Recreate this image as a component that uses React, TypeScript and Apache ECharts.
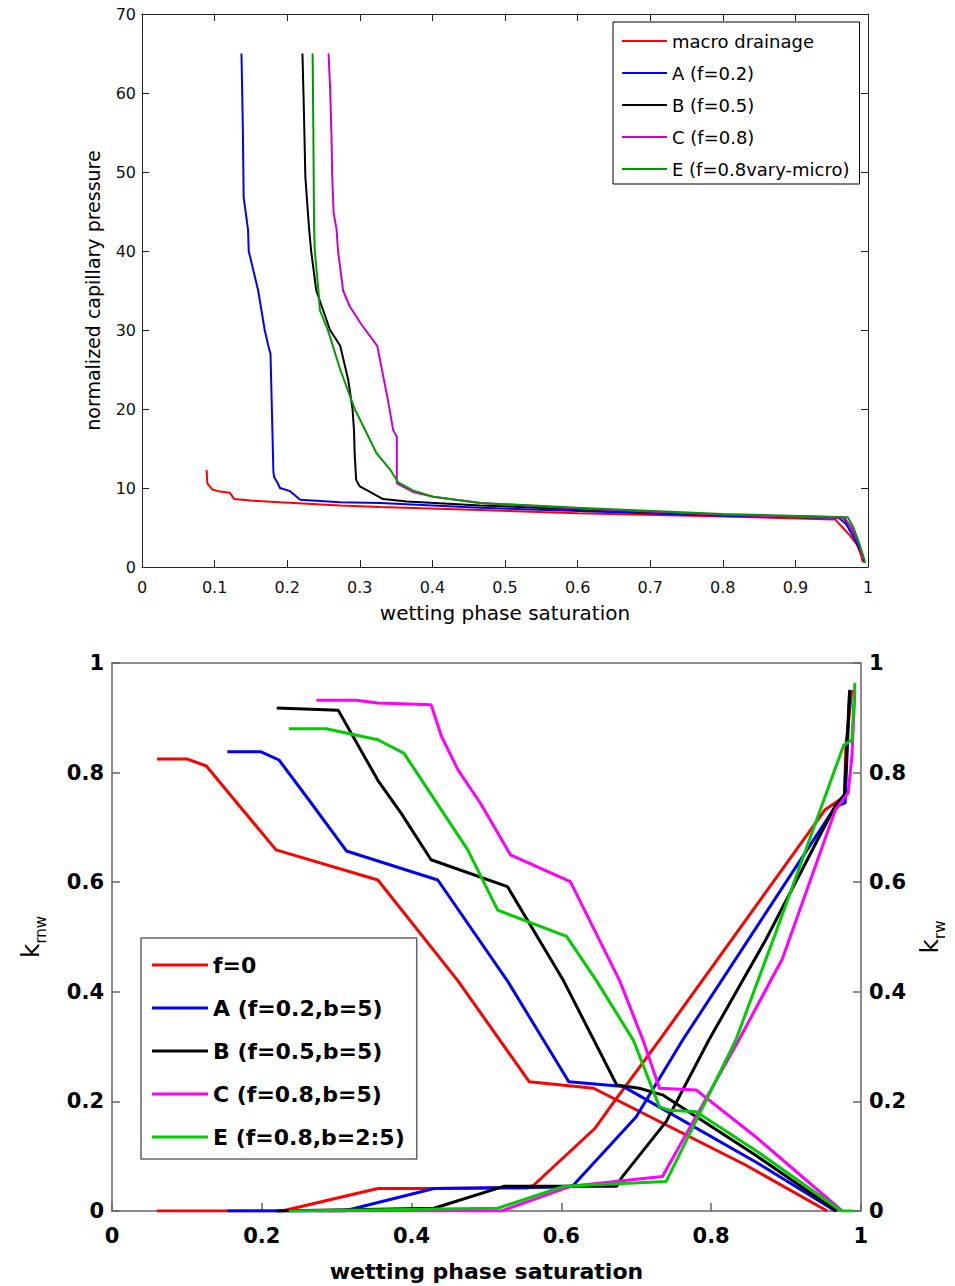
import React, { useEffect, useRef } from 'react';
import * as echarts from 'echarts';

type P = [number, number][];

// ---------- top chart: capillary pressure ----------
const topNames = ['macro drainage', 'A (f=0.2)', 'B (f=0.5)', 'C (f=0.8)', 'E (f=0.8vary-micro)'];
const topColors = ['#ff0000', '#0000ff', '#000000', '#cc00cc', '#009900'];

const pcMacro: P = [[0.089, 12.3], [0.09, 10.6], [0.097, 9.8], [0.105, 9.6], [0.121, 9.4], [0.127, 8.6], [0.153, 8.4], [0.19, 8.2], [0.273, 7.8], [0.328, 7.6], [0.466, 7.2], [0.6, 6.8], [0.8, 6.4], [0.955, 6.0], [0.965, 5.0], [0.975, 4.0], [0.985, 2.8], [0.99, 1.6], [0.993, 0.6]];
const pcA: P = [[0.137, 65], [0.139, 55], [0.14, 46.8], [0.143, 44.8], [0.146, 42.7], [0.147, 40], [0.16, 35], [0.169, 30], [0.174, 28], [0.177, 27], [0.181, 12], [0.182, 11.4], [0.187, 10.6], [0.19, 10], [0.204, 9.6], [0.213, 8.9], [0.218, 8.5], [0.273, 8.2], [0.328, 8.1], [0.466, 7.5], [0.6, 7.1], [0.8, 6.5], [0.96, 6.2], [0.97, 5.4], [0.98, 3.8], [0.99, 2.0], [0.995, 0.8]];
const pcB: P = [[0.221, 65], [0.223, 57.8], [0.225, 49.4], [0.228, 45.5], [0.23, 43], [0.233, 40], [0.24, 35], [0.259, 30], [0.273, 28], [0.284, 23.7], [0.29, 20], [0.292, 17.3], [0.293, 14.2], [0.295, 11], [0.3, 10.2], [0.314, 9.5], [0.332, 8.6], [0.365, 8.3], [0.466, 7.8], [0.6, 7.3], [0.8, 6.6], [0.965, 6.3], [0.975, 5.2], [0.985, 3.4], [0.992, 1.6], [0.995, 0.6]];
const pcC: P = [[0.257, 65], [0.259, 60.8], [0.26, 57.8], [0.261, 54.5], [0.262, 49.4], [0.264, 44.8], [0.268, 42.7], [0.27, 40], [0.277, 35], [0.286, 33], [0.303, 30.6], [0.324, 28], [0.339, 21], [0.346, 17.3], [0.351, 16.5], [0.351, 10.6], [0.373, 9.5], [0.401, 8.9], [0.466, 8.1], [0.6, 7.4], [0.8, 6.6], [0.968, 6.2], [0.978, 4.8], [0.988, 2.8], [0.993, 1.0]];
const pcE: P = [[0.235, 65], [0.236, 55.3], [0.237, 43], [0.238, 40], [0.243, 35], [0.245, 32.5], [0.256, 30], [0.273, 25], [0.293, 20], [0.314, 16.1], [0.323, 14.4], [0.342, 12.3], [0.353, 10.7], [0.373, 9.7], [0.401, 8.9], [0.466, 8.1], [0.6, 7.5], [0.8, 6.7], [0.972, 6.3], [0.98, 5.0], [0.988, 3.0], [0.994, 1.2], [0.996, 0.5]];
const topData: P[] = [pcMacro, pcA, pcB, pcC, pcE];

// ---------- bottom chart: relative permeability ----------
const botNames = ['f=0', 'A (f=0.2,b=5)', 'B (f=0.5,b=5)', 'C (f=0.8,b=5)', 'E (f=0.8,b=2:5)'];
const botColors = ['#ff0000', '#0000ff', '#000000', '#ff00ff', '#00cc00'];

const krnwF0: P = [[0.06, 0.825], [0.1, 0.825], [0.126, 0.812], [0.219, 0.659], [0.355, 0.604], [0.462, 0.42], [0.557, 0.236], [0.643, 0.224], [0.846, 0.084], [0.955, 0]];
const krwF0: P = [[0.06, 0], [0.227, 0], [0.355, 0.041], [0.43, 0.041], [0.555, 0.042], [0.563, 0.047], [0.645, 0.151], [0.669, 0.197], [0.731, 0.312], [0.859, 0.555], [0.952, 0.732], [0.978, 0.756], [0.98, 0.85], [0.988, 0.951]];
const krnwA: P = [[0.154, 0.838], [0.199, 0.838], [0.223, 0.823], [0.263, 0.75], [0.313, 0.657], [0.435, 0.604], [0.528, 0.42], [0.61, 0.236], [0.683, 0.227], [0.859, 0.09], [0.966, 0]];
const krwA: P = [[0.154, 0], [0.31, 0], [0.43, 0.041], [0.61, 0.044], [0.616, 0.047], [0.7, 0.172], [0.762, 0.312], [0.966, 0.738], [0.979, 0.745], [0.985, 0.951]];
const krnwB: P = [[0.22, 0.918], [0.302, 0.914], [0.355, 0.786], [0.386, 0.726], [0.426, 0.641], [0.528, 0.592], [0.603, 0.42], [0.674, 0.23], [0.704, 0.224], [0.735, 0.212], [0.859, 0.102], [0.968, 0]];
const krwB: P = [[0.22, 0], [0.43, 0.005], [0.523, 0.045], [0.674, 0.045], [0.68, 0.06], [0.74, 0.163], [0.797, 0.312], [0.873, 0.495], [0.966, 0.74], [0.978, 0.76], [0.985, 0.95]];
const krnwC: P = [[0.273, 0.932], [0.326, 0.932], [0.355, 0.927], [0.426, 0.924], [0.44, 0.866], [0.462, 0.805], [0.492, 0.744], [0.532, 0.65], [0.612, 0.601], [0.678, 0.42], [0.709, 0.312], [0.731, 0.224], [0.78, 0.221], [0.859, 0.136], [0.975, 0]];
const krwC: P = [[0.273, 0], [0.52, 0], [0.612, 0.045], [0.735, 0.063], [0.837, 0.312], [0.895, 0.46], [0.966, 0.732], [0.983, 0.763], [0.988, 0.83], [0.992, 0.95]];
const krnwE: P = [[0.236, 0.88], [0.286, 0.88], [0.355, 0.86], [0.39, 0.835], [0.475, 0.659], [0.515, 0.549], [0.607, 0.501], [0.647, 0.42], [0.696, 0.312], [0.731, 0.19], [0.744, 0.184], [0.78, 0.181], [0.859, 0.111], [0.974, 0], [0.99, 0]];
const krwE: P = [[0.236, 0], [0.515, 0.005], [0.603, 0.045], [0.74, 0.054], [0.833, 0.312], [0.886, 0.507], [0.977, 0.85], [0.988, 0.86], [0.992, 0.964]];
const krnwData: P[] = [krnwF0, krnwA, krnwB, krnwC, krnwE];
const krwData: P[] = [krwF0, krwA, krwB, krwC, krwE];

// axis ranges
const topX = { min: 0, max: 1, interval: 0.1 };
const topY = { min: 0, max: 70, interval: 10 };
const botX = { min: 0, max: 1, interval: 0.2 };
const botY = { min: 0, max: 1, interval: 0.2 };

const REG = 'DejaVu Sans';

function line(name: string, data: P, color: string, width: number, xi: number, yi: number) {
  return {
    type: 'line', name, data, xAxisIndex: xi, yAxisIndex: yi,
    showSymbol: false, symbol: 'none', silent: true,
    lineStyle: { color, width }, itemStyle: { color },
    emphasis: { disabled: true },
  };
}

export default function App() {
  const ref = useRef<HTMLDivElement>(null);
  useEffect(() => {
    if (!ref.current) return;
    const chart = echarts.init(ref.current, undefined, { renderer: 'svg' });
    const topAxisColor = '#222';
    const botAxisColor = '#666';
    const topLabel = { fontFamily: REG, fontSize: 16, color: '#111' };
    const botLabel = { fontFamily: REG, fontSize: 21, fontWeight: 'bold', color: '#000' };
    const topLine = { show: true, onZero: false, lineStyle: { color: topAxisColor, width: 1 } };
    const topTick = { show: true, inside: true, length: 7, lineStyle: { color: topAxisColor } };
    const botLine = { show: true, onZero: false, lineStyle: { color: botAxisColor, width: 1.5 } };
    const botTick = { show: true, inside: true, length: 8, lineStyle: { color: botAxisColor, width: 1.5 } };
    const subRich = {
      k: { fontFamily: REG, fontSize: 25, lineHeight: 30, verticalAlign: 'top', color: '#000' },
      s: { fontFamily: REG, fontSize: 15, lineHeight: 30, verticalAlign: 'bottom', color: '#000' },
    };

    const series: any[] = [];
    topNames.forEach((n, i) => series.push(line(n, topData[i], topColors[i], 2, 0, 0)));
    botNames.forEach((n, i) => {
      series.push(line(n, krnwData[i], botColors[i], 3, 2, 2));
      series.push(line(n, krwData[i], botColors[i], 3, 2, 3));
    });

    chart.setOption({
      animation: false,
      backgroundColor: '#fff',
      grid: [
        { left: 142, top: 14, width: 726, height: 553, show: false },
        { left: 112, top: 663, width: 754, height: 548, show: false },
      ],
      xAxis: [
        {
          gridIndex: 0, type: 'value', ...topX, position: 'bottom',
          axisLine: topLine, axisTick: topTick,
          axisLabel: { ...topLabel, margin: 12 },
          splitLine: { show: false },
          name: 'wetting phase saturation', nameLocation: 'middle', nameGap: 36,
          nameTextStyle: { fontFamily: REG, fontSize: 20, color: '#000' },
        },
        {
          gridIndex: 0, type: 'value', ...topX, position: 'top',
          axisLine: topLine, axisTick: topTick,
          axisLabel: { show: false }, splitLine: { show: false },
        },
        {
          gridIndex: 1, type: 'value', ...botX, position: 'bottom',
          axisLine: botLine, axisTick: botTick,
          axisLabel: { ...botLabel, margin: 14 },
          splitLine: { show: false },
          name: 'wetting phase saturation', nameLocation: 'middle', nameGap: 49,
          nameTextStyle: { fontFamily: REG, fontSize: 22, fontWeight: 'bold', color: '#000' },
        },
        {
          gridIndex: 1, type: 'value', ...botX, position: 'top',
          axisLine: botLine,
          axisTick: { show: false }, axisLabel: { show: false }, splitLine: { show: false },
        },
      ],
      yAxis: [
        {
          gridIndex: 0, type: 'value', ...topY, position: 'left',
          axisLine: topLine, axisTick: topTick,
          axisLabel: { ...topLabel, margin: 6 },
          splitLine: { show: false },
          name: 'normalized capillary pressure', nameLocation: 'middle', nameGap: 40,
          nameTextStyle: { fontFamily: REG, fontSize: 19, color: '#000' },
        },
        {
          gridIndex: 0, type: 'value', ...topY, position: 'right',
          axisLine: topLine, axisTick: topTick,
          axisLabel: { show: false }, splitLine: { show: false },
        },
        {
          gridIndex: 1, type: 'value', ...botY, position: 'left',
          axisLine: botLine, axisTick: botTick,
          axisLabel: { ...botLabel, margin: 8 },
          splitLine: { show: false },
          name: '{k|k}{s|rnw}', nameLocation: 'middle', nameGap: 64,
          nameTextStyle: { color: '#000', rich: subRich },
        },
        {
          gridIndex: 1, type: 'value', ...botY, position: 'right',
          axisLine: botLine, axisTick: botTick,
          axisLabel: { ...botLabel, margin: 8 },
          splitLine: { show: false },
          name: '{k|k}{s|rw}', nameLocation: 'middle', nameGap: 54,
          nameTextStyle: { color: '#000', rich: subRich },
        },
      ],
      legend: [
        {
          data: topNames, orient: 'vertical', left: 613, top: 22,
          icon: 'rect', itemWidth: 45, itemHeight: 2, itemGap: 14,
          padding: [10, 10, 6, 9],
          borderColor: '#000', borderWidth: 1, backgroundColor: '#fff',
          textStyle: { fontFamily: REG, fontSize: 18, color: '#000' },
          selectedMode: false,
        },
        {
          data: botNames, orient: 'vertical', left: 141, top: 938,
          icon: 'rect', itemWidth: 56, itemHeight: 3, itemGap: 21,
          padding: [16, 12, 11, 11],
          borderColor: '#666', borderWidth: 1.5, backgroundColor: '#fff',
          textStyle: { fontFamily: REG, fontSize: 22, fontWeight: 'bold', color: '#000' },
          selectedMode: false,
        },
      ],
      series,
    });
    return () => chart.dispose();
  }, []);
  return <div ref={ref} style={{ position: 'absolute', left: 0, top: 0, width: 955, height: 1286 }} />;
}
